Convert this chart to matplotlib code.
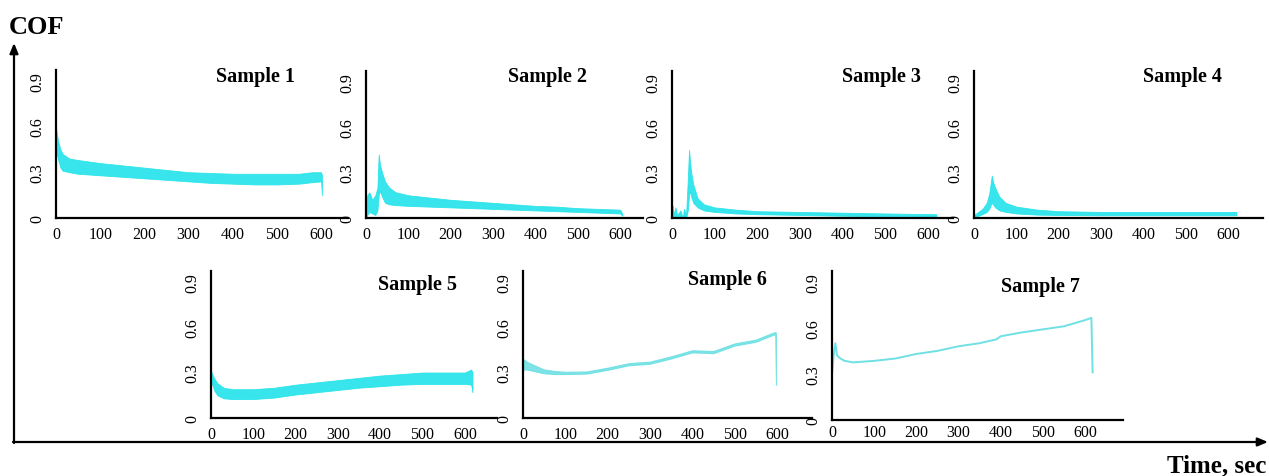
import matplotlib
matplotlib.use("Agg")
import matplotlib.pyplot as plt

plt.rcParams['font.family'] = ['Liberation Serif', 'DejaVu Serif']

# ---------------- data ----------------
titles = ["Sample 1", "Sample 2", "Sample 3", "Sample 4", "Sample 5", "Sample 6", "Sample 7"]
x_ticks = [0, 100, 200, 300, 400, 500, 600]
y_ticks = [0, 0.3, 0.6, 0.9]
y_tick_labels = ["0", "0.3", "0.6", "0.9"]

s1_t = [0, 2, 5, 10, 15, 30, 50, 100, 150, 200, 250, 300, 350, 400, 450, 500, 550, 580, 600, 602]
s1_lo = [0.45, 0.42, 0.38, 0.33, 0.31, 0.30, 0.29, 0.28, 0.27, 0.26, 0.25, 0.24, 0.23, 0.225, 0.22, 0.22, 0.225, 0.235, 0.24, 0.15]
s1_hi = [0.59, 0.55, 0.50, 0.45, 0.42, 0.39, 0.38, 0.36, 0.345, 0.33, 0.315, 0.30, 0.295, 0.29, 0.29, 0.29, 0.29, 0.30, 0.30, 0.28]

s2_t = [0, 3, 8, 15, 22, 27, 30, 33, 38, 45, 55, 70, 100, 150, 200, 250, 300, 350, 400, 450, 500, 550, 600, 605]
s2_lo = [0.0, 0.02, 0.04, 0.03, 0.02, 0.05, 0.15, 0.18, 0.14, 0.10, 0.09, 0.085, 0.08, 0.075, 0.07, 0.065, 0.06, 0.055, 0.05, 0.045, 0.04, 0.035, 0.03, 0.015]
s2_hi = [0.05, 0.15, 0.17, 0.12, 0.15, 0.20, 0.42, 0.35, 0.30, 0.24, 0.20, 0.17, 0.15, 0.135, 0.12, 0.11, 0.10, 0.09, 0.08, 0.075, 0.065, 0.06, 0.055, 0.03]

s3_t = [0, 2, 4, 8, 12, 20, 25, 28, 33, 37, 40, 42, 45, 50, 60, 75, 100, 150, 200, 300, 400, 500, 620]
s3_lo = [0, 0, 0, 0, 0, 0, 0, 0, 0, 0.05, 0.15, 0.18, 0.14, 0.10, 0.07, 0.05, 0.04, 0.03, 0.025, 0.02, 0.015, 0.012, 0.01]
s3_hi = [0.0, 0.08, 0.02, 0.07, 0.02, 0.05, 0.0, 0.06, 0.02, 0.25, 0.45, 0.38, 0.30, 0.22, 0.13, 0.09, 0.07, 0.055, 0.045, 0.04, 0.035, 0.03, 0.025]

s4_t = [0, 10, 20, 30, 36, 40, 42, 45, 50, 60, 75, 100, 150, 200, 300, 400, 500, 620]
s4_lo = [0.0, 0.015, 0.025, 0.04, 0.06, 0.09, 0.10, 0.09, 0.07, 0.05, 0.04, 0.03, 0.022, 0.02, 0.018, 0.018, 0.018, 0.018]
s4_hi = [0.02, 0.04, 0.06, 0.10, 0.16, 0.24, 0.28, 0.24, 0.20, 0.14, 0.10, 0.075, 0.055, 0.045, 0.04, 0.04, 0.04, 0.04]

s5_t = [0, 3, 8, 15, 30, 50, 100, 150, 200, 250, 300, 350, 400, 450, 500, 550, 600, 615, 618]
s5_lo = [0.24, 0.22, 0.18, 0.15, 0.13, 0.125, 0.125, 0.135, 0.155, 0.17, 0.185, 0.20, 0.21, 0.22, 0.225, 0.225, 0.225, 0.22, 0.17]
s5_hi = [0.31, 0.29, 0.26, 0.23, 0.20, 0.19, 0.19, 0.20, 0.22, 0.235, 0.25, 0.265, 0.28, 0.29, 0.30, 0.30, 0.30, 0.32, 0.30]

s6_t = [0, 10, 25, 50, 75, 100, 150, 200, 250, 300, 350, 400, 450, 500, 550, 590, 597, 598]
s6_lo = [0.32, 0.32, 0.31, 0.295, 0.29, 0.29, 0.293, 0.318, 0.348, 0.358, 0.393, 0.433, 0.428, 0.478, 0.503, 0.548, 0.553, 0.22]
s6_hi = [0.39, 0.37, 0.35, 0.32, 0.31, 0.305, 0.307, 0.332, 0.362, 0.372, 0.407, 0.447, 0.442, 0.492, 0.517, 0.562, 0.567, 0.23]

s7_t = [0, 4, 8, 12, 20, 30, 50, 100, 150, 200, 250, 300, 350, 390, 400, 450, 500, 550, 600, 615, 618]
s7_v = [0.30, 0.42, 0.50, 0.42, 0.40, 0.385, 0.375, 0.385, 0.40, 0.43, 0.45, 0.48, 0.50, 0.525, 0.545, 0.57, 0.59, 0.61, 0.65, 0.665, 0.31]

# ---------------- layout (pixels) ----------------
W, H = 1269, 477
fig = plt.figure(figsize=(W / 100, H / 100), dpi=100)

# overlay for the big COF / Time axes
ov = fig.add_axes([0, 0, 1, 1])
ov.set_xlim(0, W)
ov.set_ylim(H, 0)
ov.axis('off')
ov.annotate('', xy=(14, 44), xytext=(14, 444),
            arrowprops=dict(arrowstyle='-|>,head_length=0.6,head_width=0.25', lw=1.6, color='black',
                            shrinkA=0, shrinkB=0))
ov.annotate('', xy=(1268, 443), xytext=(13, 443),
            arrowprops=dict(arrowstyle='-|>,head_length=0.6,head_width=0.25', lw=1.6, color='black',
                            shrinkA=0, shrinkB=0))
ov.text(9, 27, "COF", fontsize=19, fontweight='bold', ha='left', va='center')
ov.text(1266, 466, "Time, sec", fontsize=18, fontweight='bold', ha='right', va='center')

# panel geometry: (x of y-axis, x end, top, bottom, xmax, title x, title y, x-label pad)
panels = [
    (56, 348, 71, 219, 661, 255, 77, 6),
    (366, 643, 72, 219, 654, 547, 77, 6),
    (672, 953, 72, 219, 659, 881, 77, 6),
    (974, 1263, 72, 219, 683, 1182, 77, 6),
    (211, 497, 272, 419, 676, 418, 285, 6),
    (523, 812, 272, 419, 683, 727, 280, 6),
    (832, 1123, 272, 421, 690, 1040, 287, 3),
]

band_data = [(s1_t, s1_lo, s1_hi), (s2_t, s2_lo, s2_hi), (s3_t, s3_lo, s3_hi),
             (s4_t, s4_lo, s4_hi), (s5_t, s5_lo, s5_hi), (s6_t, s6_lo, s6_hi)]

band_col = '#22E3EA'
line_col = '#6FE0E4'

for i, (x0, x1, top, bot, xmax, tx, ty, xpad) in enumerate(panels):
    ax = fig.add_axes([x0 / W, (H - bot) / H, (x1 - x0) / W, (bot - top) / H])
    ax.set_xlim(0, xmax)
    ax.set_ylim(0, 0.97)
    for s in ['top', 'right']:
        ax.spines[s].set_visible(False)
    for s in ['left', 'bottom']:
        ax.spines[s].set_linewidth(1.6)
        ax.spines[s].set_color('black')
    ax.set_xticks(x_ticks)
    ax.set_xticklabels([str(v) for v in x_ticks])
    ax.set_yticks(y_ticks)
    ax.set_yticklabels(y_tick_labels, rotation=90, va='center')
    ax.tick_params(axis='x', length=0, pad=xpad, labelsize=11.5)
    ax.tick_params(axis='y', length=0, pad=8, labelsize=11.5)
    ax.patch.set_alpha(0)

    if i < 5:
        t, lo, hi = band_data[i]
        ax.fill_between(t, lo, hi, color=band_col, lw=0.6, edgecolor=band_col, alpha=0.9)
    elif i == 5:
        t, lo, hi = band_data[i]
        ax.fill_between(t, lo, hi, color=line_col, lw=0.8, edgecolor=line_col, alpha=0.9)
    else:
        ax.plot(s7_t, s7_v, color=line_col, lw=1.4)

    ov.text(tx, ty, titles[i], fontsize=14.5, fontweight='bold', ha='center', va='center')

fig.savefig("out.png", dpi=100)
